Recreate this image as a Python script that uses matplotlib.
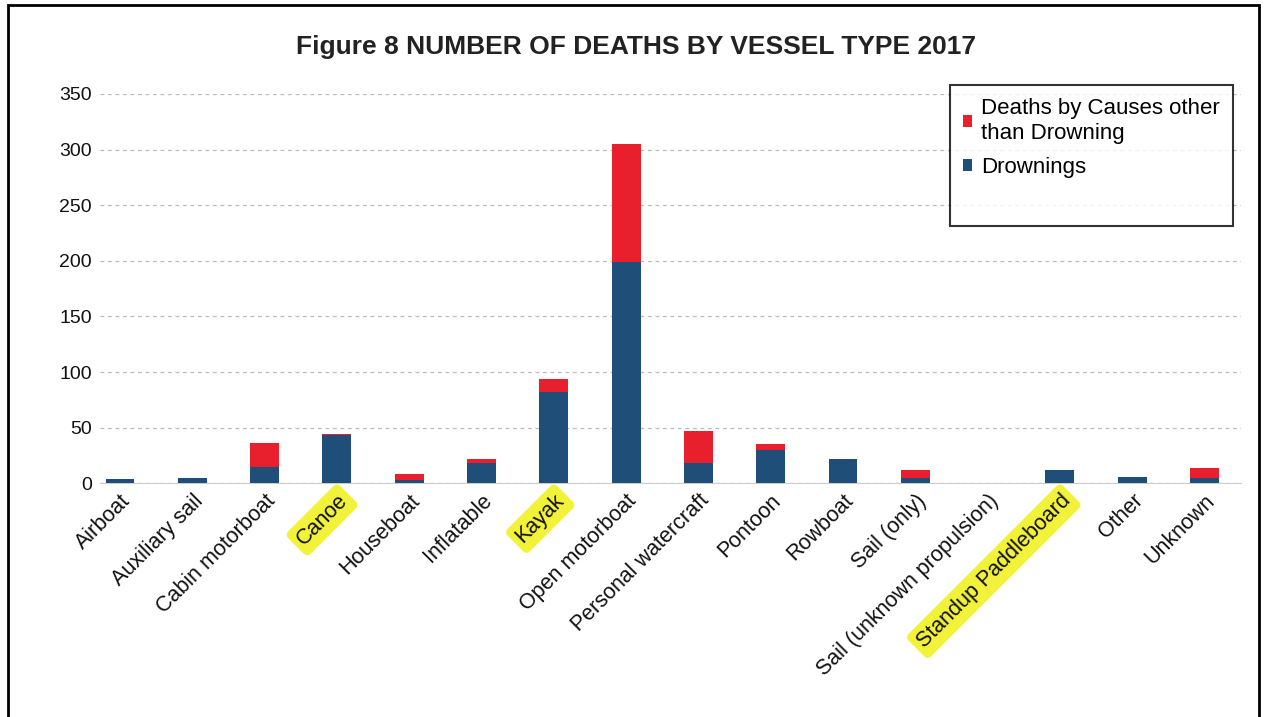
import numpy as np
import matplotlib.pyplot as plt
from matplotlib.patches import Rectangle, Patch

plt.rcParams['font.family'] = ['Liberation Sans', 'DejaVu Sans']

vessels = ['Airboat', 'Auxiliary sail', 'Cabin motorboat', 'Canoe', 'Houseboat',
           'Inflatable', 'Kayak', 'Open motorboat', 'Personal watercraft', 'Pontoon',
           'Rowboat', 'Sail (only)', 'Sail (unknown propulsion)', 'Standup Paddleboard',
           'Other', 'Unknown']
drownings = [4, 5, 15, 43, 3, 18, 82, 199, 18, 30, 22, 5, 0, 12, 6, 5]
other_causes = [0, 0, 21, 1, 5, 4, 12, 106, 29, 5, 0, 7, 0, 0, 0, 9]
highlighted = ['Canoe', 'Kayak', 'Standup Paddleboard']

blue = '#1f4e79'
red = '#e8202e'

fig = plt.figure(figsize=(12.64, 7.17), dpi=100)
ax = fig.add_axes([100 / 1264, 0.326, 1141 / 1264, 0.543])

x = np.arange(len(vessels))
ax.bar(x, drownings, width=0.4, color=blue, label='Drownings', zorder=3)
ax.bar(x, other_causes, width=0.4, bottom=drownings, color=red,
       label='Deaths by Causes other\nthan Drowning', zorder=3)

# keep bar spacing ~72px with the first bar centred near x=120
ax.set_xlim(-0.277, -0.277 + 1141 / 72.3)
ax.set_ylim(0, 350)
ax.set_yticks(range(0, 351, 50))
ax.yaxis.grid(True, linestyle=(0, (3, 3)), color='#bbbbbb', linewidth=0.9, zorder=0)
for s in ['top', 'right', 'left']:
    ax.spines[s].set_visible(False)
ax.spines['bottom'].set_color('#cccccc')
ax.tick_params(axis='y', length=0, labelsize=14, colors='#111111', pad=6)
ax.tick_params(axis='x', length=0, colors='#111111', pad=5)
ax.set_xticks(x)
ax.set_xticklabels(vessels, rotation=45, ha='right', rotation_mode='anchor', fontsize=15.5)
for lab in ax.get_xticklabels():
    if lab.get_text() in highlighted:
        lab.set_bbox(dict(boxstyle='round,pad=0.25', facecolor='#f2f23a', edgecolor='none'))

h, l = ax.get_legend_handles_labels()
h = h[::-1] + [Patch(facecolor='none', edgecolor='none')]
l = l[::-1] + [' ']
leg = ax.legend(h, l, loc='upper right', bbox_to_anchor=(1233 / 1264, 1 - 85 / 717),
                bbox_transform=fig.transFigure,
                fontsize=16, frameon=True, fancybox=False, edgecolor='black',
                handlelength=0.4, handleheight=0.4, handletextpad=0.4,
                labelspacing=0.6, borderpad=0.6, borderaxespad=0.0)
leg.get_frame().set_linewidth(1.5)
leg.set_zorder(5)

fig.text(0.503, 0.934, 'Figure 8 NUMBER OF DEATHS BY VESSEL TYPE 2017',
         ha='center', va='center', fontsize=19, fontweight='bold', color='#222222')

fig.patches.append(Rectangle((0.006, -0.01), 0.99, 1.003, transform=fig.transFigure,
                             fill=False, edgecolor='black', linewidth=2))

fig.savefig('out.png', dpi=100)
